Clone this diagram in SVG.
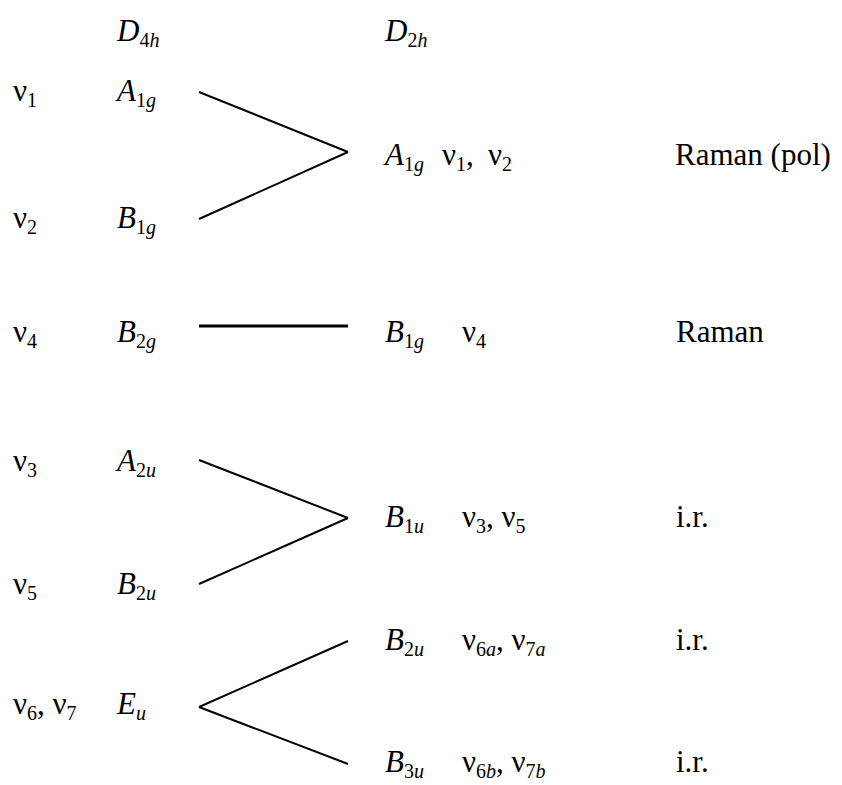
<svg xmlns="http://www.w3.org/2000/svg" width="842" height="785" viewBox="0 0 842 785">
<style>
text{font-family:"Liberation Serif","Times New Roman",serif;font-size:31px;fill:#000}
.i{font-style:italic}
.n{font-style:normal}
.s{font-size:20px}
.c line{stroke:#000;stroke-width:2;stroke-linecap:butt}
.c line.thick{stroke-width:3}
</style>
<rect width="842" height="785" fill="#fff"/>
<g id="hdr-d4h"><text class="i" x="117" y="41">D<tspan class="s" dy="6"><tspan class="n">4</tspan>h</tspan></text></g>
<g id="hdr-d2h"><text class="i" x="385" y="41">D<tspan class="s" dy="6"><tspan class="n">2</tspan>h</tspan></text></g>

<g id="n-a1g-d4h">
<text x="13" y="101">ν<tspan class="s" dy="6">1</tspan></text>
<text class="i" x="117" y="101">A<tspan class="s" dy="6"><tspan class="n">1</tspan>g</tspan></text>
</g>
<g id="n-b1g-d4h">
<text x="13" y="228">ν<tspan class="s" dy="6">2</tspan></text>
<text class="i" x="117" y="228">B<tspan class="s" dy="6"><tspan class="n">1</tspan>g</tspan></text>
</g>
<g id="n-b2g-d4h">
<text x="13" y="342">ν<tspan class="s" dy="6">4</tspan></text>
<text class="i" x="117" y="342">B<tspan class="s" dy="6"><tspan class="n">2</tspan>g</tspan></text>
</g>
<g id="n-a2u-d4h">
<text x="13" y="471">ν<tspan class="s" dy="6">3</tspan></text>
<text class="i" x="117" y="471">A<tspan class="s" dy="6"><tspan class="n">2</tspan>u</tspan></text>
</g>
<g id="n-b2u-d4h">
<text x="13" y="594">ν<tspan class="s" dy="6">5</tspan></text>
<text class="i" x="117" y="594">B<tspan class="s" dy="6"><tspan class="n">2</tspan>u</tspan></text>
</g>
<g id="n-eu-d4h">
<text x="13" y="714">ν<tspan class="s" dy="6">6</tspan><tspan dy="-6">, ν</tspan><tspan class="s" dy="6">7</tspan></text>
<text class="i" x="117" y="714">E<tspan class="s" dy="6">u</tspan></text>
</g>

<g id="n-a1g-d2h">
<text class="i" x="385" y="165">A<tspan class="s" dy="6"><tspan class="n">1</tspan>g</tspan></text>
<text x="442" y="165">ν<tspan class="s" dy="6">1</tspan><tspan dy="-6">, </tspan><tspan x="488">ν</tspan><tspan class="s" dy="6">2</tspan></text>
<text x="675" y="165">Raman (pol)</text>
</g>
<g id="n-b1g-d2h">
<text class="i" x="385" y="342">B<tspan class="s" dy="6"><tspan class="n">1</tspan>g</tspan></text>
<text x="462" y="342">ν<tspan class="s" dy="6">4</tspan></text>
<text x="676" y="342">Raman</text>
</g>
<g id="n-b1u-d2h">
<text class="i" x="385" y="527">B<tspan class="s" dy="6"><tspan class="n">1</tspan>u</tspan></text>
<text x="462" y="527">ν<tspan class="s" dy="6">3</tspan><tspan dy="-6">, ν</tspan><tspan class="s" dy="6">5</tspan></text>
<text x="676" y="527">i.r.</text>
</g>
<g id="n-b2u-d2h">
<text class="i" x="385" y="650">B<tspan class="s" dy="6"><tspan class="n">2</tspan>u</tspan></text>
<text x="462" y="650">ν<tspan class="s" dy="6">6<tspan class="i">a</tspan></tspan><tspan dy="-6">, ν</tspan><tspan class="s" dy="6">7<tspan class="i">a</tspan></tspan></text>
<text x="676" y="650">i.r.</text>
</g>
<g id="n-b3u-d2h">
<text class="i" x="385" y="772">B<tspan class="s" dy="6"><tspan class="n">3</tspan>u</tspan></text>
<text x="462" y="772">ν<tspan class="s" dy="6">6<tspan class="i">b</tspan></tspan><tspan dy="-6">, ν</tspan><tspan class="s" dy="6">7<tspan class="i">b</tspan></tspan></text>
<text x="676" y="772">i.r.</text>
</g>

<g id="connectors" class="c">
<line x1="199" y1="92" x2="348" y2="152"/>
<line x1="199" y1="219" x2="348" y2="152"/>
<line class="thick" x1="199" y1="326" x2="348" y2="326"/>
<line x1="199" y1="460" x2="348" y2="518"/>
<line x1="199" y1="584" x2="348" y2="518"/>
<line x1="199" y1="707" x2="348" y2="641"/>
<line x1="199" y1="707" x2="348" y2="764"/>
</g>
</svg>
